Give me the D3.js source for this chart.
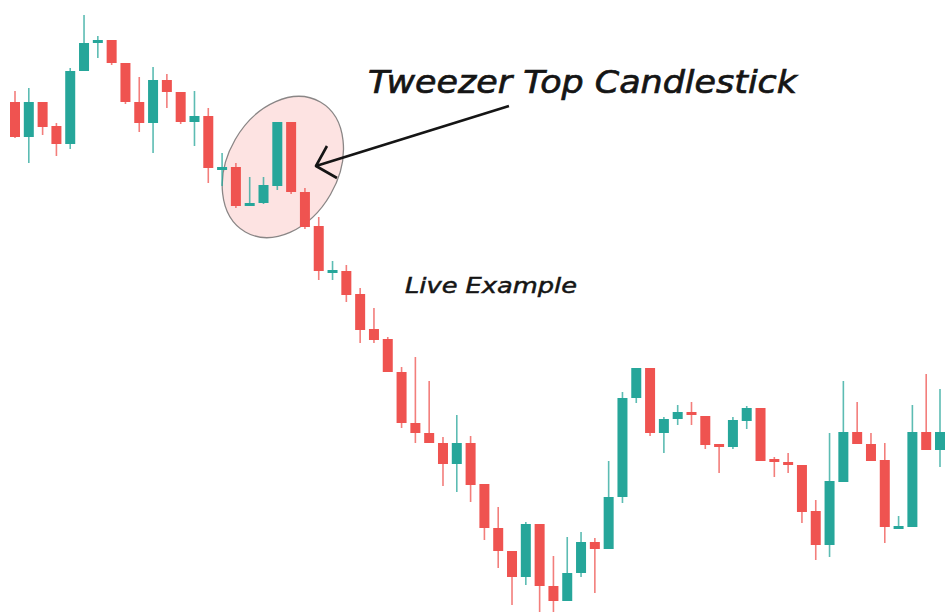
<!DOCTYPE html>
<html lang="en">
<head>
<meta charset="UTF-8">
<title>Tweezer Top Candlestick</title>
<script src="https://d3js.org/d3.v7.min.js"></script>
<style>
body, html {
	margin: 0;
	padding: 0;
	background: #fff;
}
.wick {
	stroke-width: 1.6px;
}
.title {
	font-family: "DejaVu Sans", sans-serif;
	font-style: italic;
	font-weight: normal;
	fill: #151515;
	stroke: #151515;
	stroke-width: 0.7px;
}
</style>
</head>
<body>
<script>
// candle prices, left to right
var opens  = [1898,1863,1898,1874,1856,1929,1957,1960,1937,1898,1877,1920,1908,1878,1884,1832,1833,1794,1797,1814,1878,1808,1774,1729,1729,1706,1671,1661,1628,1577,1567,1557,1536,1557,1516,1472,1449,1423,1476,1414,1399,1427,1458,1451,1503,1602,1632,1567,1581,1588,1584,1556,1553,1579,1592,1541,1538,1535,1489,1455,1518,1568,1556,1540,1473,1473,1568,1550];
var highs  = [1909,1912,1898,1877,1932,1985,1964,1960,1937,1923,1933,1926,1908,1909,1892,1847,1837,1823,1823,1878,1878,1812,1783,1739,1735,1712,1692,1663,1633,1643,1619,1563,1585,1564,1516,1493,1449,1478,1476,1444,1463,1468,1462,1539,1608,1632,1632,1583,1595,1598,1584,1556,1583,1594,1592,1543,1547,1535,1500,1567,1619,1598,1567,1557,1484,1595,1626,1611];
var lows   = [1862,1837,1865,1844,1851,1929,1942,1935,1896,1868,1847,1892,1876,1854,1817,1814,1792,1794,1796,1810,1806,1771,1720,1720,1698,1657,1657,1628,1572,1557,1557,1514,1508,1498,1460,1432,1395,1415,1385,1385,1399,1423,1407,1451,1497,1597,1564,1547,1575,1575,1551,1527,1551,1571,1539,1523,1527,1477,1440,1443,1518,1556,1539,1457,1473,1473,1550,1533];
var closes = [1863,1898,1873,1856,1929,1957,1960,1937,1898,1877,1920,1908,1878,1884,1832,1833,1794,1797,1815,1878,1808,1773,1729,1730,1705,1670,1660,1628,1577,1567,1557,1536,1557,1515,1472,1449,1423,1476,1414,1399,1427,1458,1451,1503,1602,1632,1567,1581,1588,1585,1555,1553,1580,1592,1539,1539,1536,1488,1455,1519,1568,1556,1539,1473,1474,1568,1550,1568];

var title = "Tweezer Top Candlestick";
var subtitle = "Live Example";

var w = 945, h = 612;
var up = "#26a69a", down = "#ef5350";

var candles = opens.map(function(o, i){
	return {i: i, open: o, high: highs[i], low: lows[i], close: closes[i]};
});

var svg = d3.select("body").append("svg")
	.attr("width", w)
	.attr("height", h);

var x = d3.scaleLinear().domain([0, candles.length - 1]).range([15, 940]);
var y = d3.scaleLinear().domain([1388, 2000]).range([h, 0]);
var bodyW = 10;

// highlight ellipse round the tweezer pair
svg.append("ellipse")
	.attr("transform", "translate(" + x(19.4) + "," + y(1833) + ") rotate(-60)")
	.attr("rx", 75)
	.attr("ry", 55)
	.style("fill", "#fde3e2")
	.style("stroke", "#8a8686")
	.style("stroke-width", 1.3);

var g = svg.selectAll(".candle")
	.data(candles)
	.enter().append("g")
	.attr("class", "candle");

g.append("line")
	.attr("class", "wick")
	.attr("x1", function(d){ return x(d.i); })
	.attr("x2", function(d){ return x(d.i); })
	.attr("y1", function(d){ return y(d.high); })
	.attr("y2", function(d){ return y(d.low); })
	.style("stroke", function(d){ return d.close >= d.open ? up : down; })
	.style("opacity", 0.75);

g.append("rect")
	.attr("x", function(d){ return x(d.i) - bodyW/2; })
	.attr("y", function(d){ return y(Math.max(d.open, d.close)); })
	.attr("width", bodyW)
	.attr("height", function(d){ return Math.max(3, Math.abs(y(d.open) - y(d.close))); })
	.style("fill", function(d){ return d.close >= d.open ? up : down; });

// arrow pointing at the pair
var tipX = x(21.8), tipY = y(1834);
svg.append("path")
	.attr("d", "M" + (tipX + 193) + "," + (tipY - 60) + " L" + tipX + "," + tipY)
	.style("fill", "none")
	.style("stroke", "#151515")
	.style("stroke-width", 2.6);
svg.append("path")
	.attr("d", "M" + (tipX + 11) + "," + (tipY - 20) + " L" + tipX + "," + tipY + " L" + (tipX + 21) + "," + (tipY + 12))
	.style("fill", "none")
	.style("stroke", "#151515")
	.style("stroke-width", 2.6)
	.style("stroke-linejoin", "round");

svg.append("text")
	.attr("class", "title")
	.attr("x", 368)
	.attr("y", 93)
	.attr("textLength", 429)
	.attr("lengthAdjust", "spacingAndGlyphs")
	.style("font-size", "32px")
	.text(title);

svg.append("text")
	.attr("class", "title")
	.attr("x", 405)
	.attr("y", 293)
	.attr("textLength", 172)
	.attr("lengthAdjust", "spacingAndGlyphs")
	.style("font-size", "21px")
	.style("stroke-width", "0.5px")
	.text(subtitle);
</script>
</body>
</html>
